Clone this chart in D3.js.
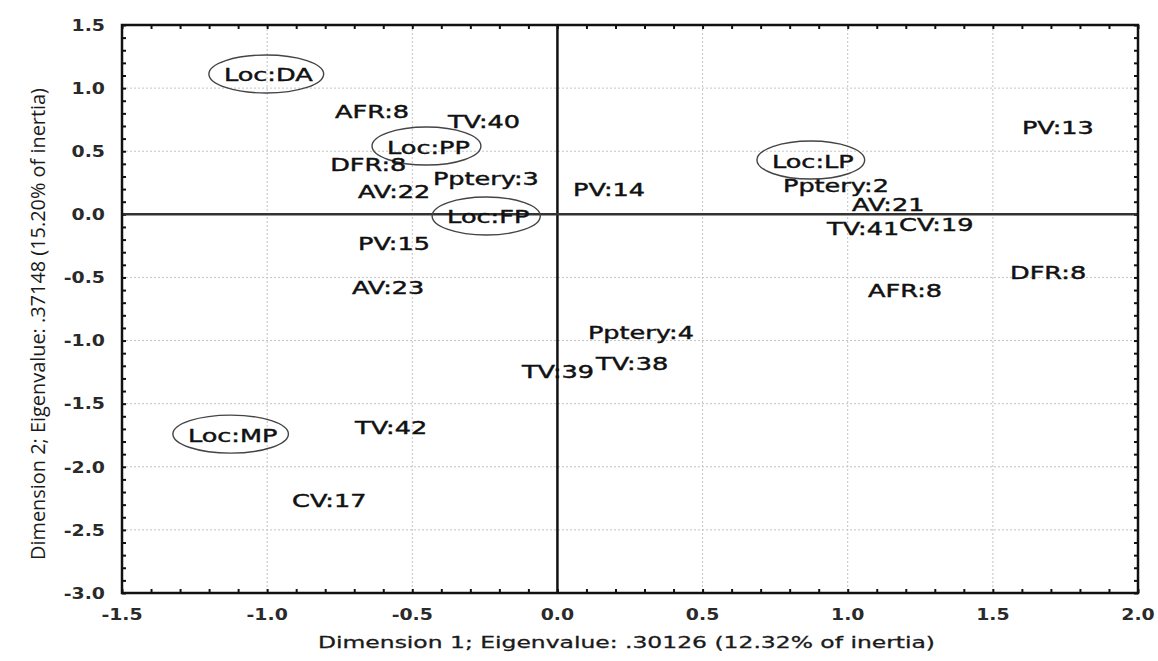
<!DOCTYPE html>
<html>
<head>
<meta charset="utf-8">
<script src="https://cdn.jsdelivr.net/npm/d3@7/dist/d3.min.js"></script>
<style>
  body { margin: 0; background: #fff; }
  svg { display: block; font-family: "DejaVu Sans", sans-serif; }
  .grid line { stroke: #c4c4c4; stroke-width: 1; stroke-dasharray: 2,2; }
  .minor line { stroke: #111; stroke-width: 2; }
  .minor path { display: none; }
  .tick-label { font-size: 16px; font-weight: bold; fill: #2a2a2a; }
  .point-label { font-size: 18px; fill: #111; stroke: #111; stroke-width: 0.45; }
</style>
</head>
<body>
<svg id="chart" width="1158" height="661"></svg>
<script>
"use strict";

// category labels of the correspondence analysis and their coordinates
const labelNames = [
  "Loc:DA", "AFR:8", "TV:40", "Loc:PP", "DFR:8", "Pptery:3", "AV:22", "PV:14",
  "Loc:FP", "Loc:LP", "PV:13", "Pptery:2", "AV:21", "TV:41", "CV:19", "PV:15",
  "AV:23", "DFR:8", "AFR:8", "Pptery:4", "TV:38", "TV:39", "Loc:MP", "TV:42", "CV:17"
];
const dim1 = [
  -1.149, -0.766, -0.377, -0.587, -0.783, -0.429, -0.687, 0.054,
  -0.380, 0.739, 1.600, 0.777, 1.015, 0.929, 1.177, -0.687,
  -0.708, 1.559, 1.070, 0.105, 0.133, -0.122, -1.273, -0.697, -0.914
];
const dim2 = [
  1.104, 0.811, 0.739, 0.533, 0.391, 0.280, 0.177, 0.193,
  -0.021, 0.422, 0.684, 0.232, 0.074, -0.109, -0.077, -0.235,
  -0.576, -0.457, -0.600, -0.933, -1.178, -1.242, -1.749, -1.685, -2.264
];

const xTickValues = [-1.5, -1.0, -0.5, 0.0, 0.5, 1.0, 1.5, 2.0];
const yTickValues = [1.5, 1.0, 0.5, 0.0, -0.5, -1.0, -1.5, -2.0, -2.5, -3.0];
const xTitle = "Dimension 1; Eigenvalue: .30126 (12.32% of inertia)";
const yTitle = "Dimension 2; Eigenvalue: .37148 (15.20% of inertia)";

// the original picture is stretched sideways, so text is widened too
const labelStretch = 1.42;
const tickStretch = 1.18;

const svg = d3.select("#chart");
const plotLeft = 122, plotRight = 1138, plotTop = 25, plotBottom = 593;

const x = d3.scaleLinear().domain([-1.5, 2.0]).range([plotLeft, plotRight]);
const y = d3.scaleLinear().domain([-3.0, 1.5]).range([plotBottom, plotTop]);

// grid at the major ticks
const grid = svg.append("g").attr("class", "grid");
grid.selectAll("line.v")
  .data(xTickValues.filter(v => v !== 0 && v > -1.5 && v < 2))
  .enter().append("line")
  .attr("x1", d => x(d)).attr("x2", d => x(d))
  .attr("y1", plotTop).attr("y2", plotBottom);
grid.selectAll("line.h")
  .data(yTickValues.filter(v => v !== 0 && v > -3 && v < 1.5))
  .enter().append("line")
  .attr("x1", plotLeft).attr("x2", plotRight)
  .attr("y1", d => y(d)).attr("y2", d => y(d));

// small ticks every 0.1 on all four sides, pointing inwards
const xMinor = d3.range(-15, 21).map(i => i / 10);
const yMinor = d3.range(-30, 16).map(i => i / 10);
svg.append("g").attr("class", "minor")
  .attr("transform", "translate(0," + plotBottom + ")")
  .call(d3.axisBottom(x).tickValues(xMinor).tickSize(-4).tickFormat(""));
svg.append("g").attr("class", "minor")
  .attr("transform", "translate(0," + plotTop + ")")
  .call(d3.axisTop(x).tickValues(xMinor).tickSize(-4).tickFormat(""));
svg.append("g").attr("class", "minor")
  .attr("transform", "translate(" + plotLeft + ",0)")
  .call(d3.axisLeft(y).tickValues(yMinor).tickSize(-4).tickFormat(""));
svg.append("g").attr("class", "minor")
  .attr("transform", "translate(" + plotRight + ",0)")
  .call(d3.axisRight(y).tickValues(yMinor).tickSize(-4).tickFormat(""));

// zero lines
svg.append("line")
  .attr("x1", x(0)).attr("x2", x(0)).attr("y1", plotTop).attr("y2", plotBottom)
  .attr("stroke", "#111").attr("stroke-width", 2.5);
svg.append("line")
  .attr("x1", plotLeft).attr("x2", plotRight).attr("y1", y(0)).attr("y2", y(0))
  .attr("stroke", "#333").attr("stroke-width", 2.5);

// frame
svg.append("rect")
  .attr("x", plotLeft).attr("y", plotTop)
  .attr("width", plotRight - plotLeft).attr("height", plotBottom - plotTop)
  .attr("fill", "none").attr("stroke", "#111").attr("stroke-width", 2.5);

// tick labels
const fmt = d => d.toFixed(1);
svg.selectAll("g.xtl")
  .data(xTickValues)
  .enter().append("g")
  .attr("transform", d => "translate(" + x(d) + "," + (plotBottom + 21) + ") scale(" + tickStretch + ",1)")
  .append("text")
  .attr("class", "tick-label")
  .attr("text-anchor", "middle")
  .attr("dy", "0.36em")
  .text(fmt);
svg.selectAll("g.ytl")
  .data(yTickValues)
  .enter().append("g")
  .attr("transform", d => "translate(" + (plotLeft - 17) + "," + y(d) + ") scale(" + tickStretch + ",1)")
  .append("text")
  .attr("class", "tick-label")
  .attr("text-anchor", "end")
  .attr("dy", "0.36em")
  .text(fmt);

// axis titles
svg.append("text")
  .attr("x", 318).attr("y", 648)
  .attr("textLength", 617).attr("lengthAdjust", "spacingAndGlyphs")
  .style("font-size", "16px").style("fill", "#1a1a1a")
  .style("stroke", "#1a1a1a").style("stroke-width", 0.3)
  .text(xTitle);
svg.append("g")
  .attr("transform", "translate(45,560) scale(1.25,1) rotate(-90)")
  .append("text")
  .attr("textLength", 472).attr("lengthAdjust", "spacingAndGlyphs")
  .style("font-family", "'Open Sans', sans-serif")
  .style("font-size", "16px").style("fill", "#1a1a1a")
  .text(yTitle);

// point labels
const points = labelNames.map((name, i) => ({ name: name, d1: dim1[i], d2: dim2[i] }));
const lab = svg.selectAll("g.pt")
  .data(points)
  .enter().append("g")
  .attr("class", "pt");

lab.append("g")
  .attr("transform", d => "translate(" + x(d.d1) + "," + y(d.d2) + ") scale(" + labelStretch + ",1)")
  .append("text")
  .attr("class", "point-label")
  .attr("dy", "0.36em")
  .text(d => d.name);

// ellipses drawn round the location categories
lab.filter(d => d.name.startsWith("Loc:"))
  .each(function(d) {
    var t = d3.select(this).select("text").node();
    var w = t.getComputedTextLength() * labelStretch;
    d3.select(this).append("ellipse")
      .attr("cx", x(d.d1) + w / 2 - 2)
      .attr("cy", y(d.d2) - 1)
      .attr("rx", w / 2 + 13)
      .attr("ry", 19)
      .attr("fill", "none")
      .attr("stroke", "#444")
      .attr("stroke-width", 1.4);
  });
</script>
</body>
</html>
